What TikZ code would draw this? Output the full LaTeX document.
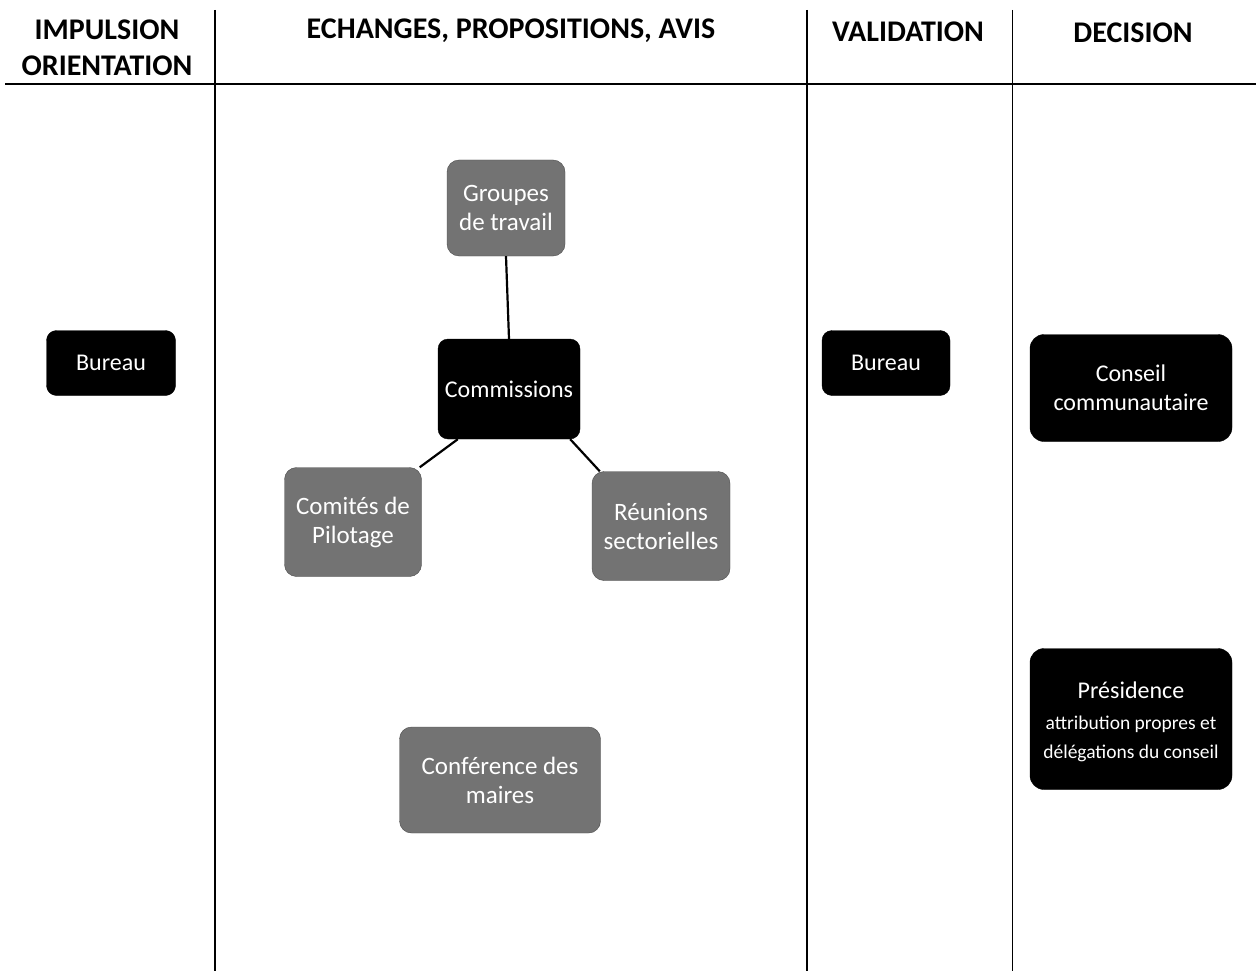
\documentclass[tikz,border=0pt]{standalone}
\usepackage{fontspec}
\setmainfont{Carlito}
\begin{document}
\begin{tikzpicture}[x=1pt,y=-1pt,
  hdr/.style={font=\bfseries\fontsize{30}{36}\selectfont, align=center, inner sep=0pt},
  darkbox/.style={draw=black, fill=black, text=white, rounded corners=10pt, align=center,
    font=\fontsize{24}{29}\selectfont, inner sep=0pt},
  graybox/.style={draw=black!70, fill=black!55, text=white, rounded corners=12pt, align=center,
    font=\fontsize{25}{29}\selectfont, inner sep=0pt},
  link/.style={draw=black, line width=2.2pt}]
\useasboundingbox (0,0) rectangle (1256,971);
% grid lines
\draw[line width=2pt] (5,84) -- (1256,84);
\draw[line width=1.4pt] (215,10) -- (215,971);
\draw[line width=1.4pt] (807,10) -- (807,971);
\draw[line width=1pt] (1012,10) -- (1012,971);
% headers
\node[hdr] (h1) at (107,48) {IMPULSION\\ORIENTATION};
\node[hdr] (h2) at (511,31) {ECHANGES, PROPOSITIONS, AVIS};
\node[hdr] (h3) at (908,32) {VALIDATION};
\node[hdr] (h4) at (1133,33) {DECISION};
% nodes
\node[darkbox, minimum width=129, minimum height=65] (b1) at (111,363) {Bureau};
\node[graybox, minimum width=118, minimum height=96] (grp) at (506,208) {Groupes\\de travail};
\node[darkbox, minimum width=142, minimum height=100] (com) at (509,389) {Commissions};
\node[graybox, minimum width=137, minimum height=109] (cop) at (353,522) {Comités de\\Pilotage};
\node[graybox, minimum width=138, minimum height=109] (reu) at (661,526) {Réunions\\sectorielles};
\node[graybox, minimum width=201, minimum height=106] (conf) at (500,780) {Conférence des\\maires};
\node[darkbox, minimum width=128, minimum height=65] (b2) at (886,363) {Bureau};
\node[darkbox, minimum width=202, minimum height=107, rounded corners=14pt] (cc) at (1131,388) {Conseil\\communautaire};
\node[darkbox, minimum width=202, minimum height=141, rounded corners=14pt] (pres) at (1131,719) {};
\node[align=center, text=white, font=\fontsize{24}{29}\selectfont, inner sep=0pt] (prest) at (1131,722)
  {Présidence\\[2pt]{\fontsize{19.5}{23}\selectfont attribution propres et}\\{\fontsize{19.5}{23}\selectfont délégations du conseil}};
% connectors
\draw[link] ([xshift=20pt]com.south west) -- ([xshift=-2pt]cop.north east);
\draw[link] ([xshift=-10pt]com.south east) -- ([xshift=8pt]reu.north west);
\draw[link] (grp.south) -- (com.north);
\end{tikzpicture}
\end{document}
